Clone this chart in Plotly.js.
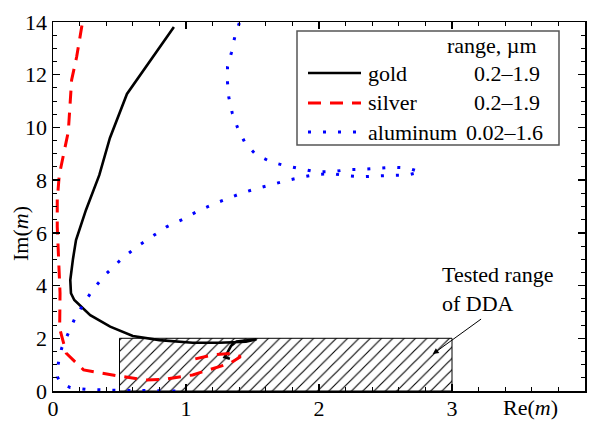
<!DOCTYPE html>
<html><head><meta charset="utf-8">
<script src="https://cdn.plot.ly/plotly-3.0.1.min.js"></script>
<style>html,body{margin:0;padding:0;background:#fff}#chart{width:590px;height:421px}</style>
</head><body><div id="chart"></div>
<script>
// ---- data ----
var goldRe = [1.33,1.29,1.31,1.34,1.38,1.45,1.53,1.45,1.25,1.05,0.80,0.60,0.43,0.28,0.16,0.135,0.13,0.15,0.173,0.248,0.348,0.428,0.556,0.909];
var goldIm = [1.22,1.28,1.45,1.72,1.88,1.93,1.96,1.87,1.83,1.83,1.93,2.09,2.44,2.88,3.45,3.71,4.21,5.0,5.73,6.87,8.19,9.6,11.27,13.81];

var silverRe = [1.07,1.20,1.36,1.41,1.33,1.25,1.05,0.85,0.70,0.48,0.23,0.10,0.05,0.053,0.04,0.032,0.032,0.047,0.115,0.128,0.14,0.178,0.232];
var silverIm = [1.22,1.37,1.43,1.30,1.05,0.92,0.61,0.45,0.42,0.58,0.80,1.43,2.38,3.71,4.97,6.23,7.25,8.19,9.84,10.79,11.8,12.68,14.3];

var alRe = [0.92,0.70,0.45,0.25,0.13,0.06,0.032,0.04,0.065,0.115,0.165,0.228,0.303,0.403,0.516,0.629,0.741,0.854,0.974,1.087,1.20,1.312,1.425,1.538,1.65,1.763,1.876,1.989,2.09,2.21,2.32,2.43,2.545,2.66,2.76,2.67,2.557,2.44,2.33,2.22,2.10,1.98,1.87,1.755,1.64,1.525,1.443,1.387,1.347,1.322,1.312,1.312,1.342,1.367,1.41];
var alIm = [0.0,0.01,0.03,0.06,0.13,0.3,0.54,1.05,1.62,2.19,2.76,3.29,3.87,4.46,5.01,5.47,5.85,6.23,6.51,6.82,7.08,7.31,7.52,7.69,7.85,7.99,8.12,8.22,8.25,8.17,8.13,8.16,8.18,8.19,8.31,8.46,8.49,8.45,8.41,8.40,8.32,8.31,8.42,8.54,8.69,8.97,9.42,10.0,10.56,11.14,11.71,12.3,12.85,13.44,14.1];

var rangeRe = [0.5,3,3,0.5,0.5];
var rangeIm = [0,0,2,2,0];

var seriesNames = ["gold","silver","aluminum"];
var seriesRanges = ["0.2\u20131.9","0.2\u20131.9","0.02\u20131.6"];

// ---- layout helpers (pixel -> paper) ----
var L = 53, R = 585, T = 22, B = 391;
function px(x){ return (x - L) / (R - L); }
function py(y){ return (B - y) / (B - T); }
var FONT = "Liberation Serif, Times New Roman, serif";
var FS = 22;

var traces = [
  {x: rangeRe, y: rangeIm, mode: "lines", fill: "toself", line: {color: "#000", width: 1},
   fillcolor: "rgba(255,255,255,0)",
   fillpattern: {shape: "/", size: 8, solidity: 0.14, fgcolor: "#000", bgcolor: "rgba(255,255,255,0)"},
   hoverinfo: "skip", showlegend: false},
  {x: goldRe, y: goldIm, mode: "lines", line: {color: "#000", width: 2.6}, showlegend: false},
  {x: silverRe, y: silverIm, mode: "lines", line: {color: "#ff0000", width: 3, dash: "13px,9px"}, showlegend: false},
  {x: alRe, y: alIm, mode: "lines", line: {color: "#0000ff", width: 3, dash: "3px,12px"}, showlegend: false}
];

var legendY = [73, 103, 132];
var legendStyles = [
  {color: "#000", width: 2.6, dash: "solid"},
  {color: "#ff0000", width: 3, dash: "13px,9px"},
  {color: "#0000ff", width: 3, dash: "3px,12px"}
];

var shapes = [
  {type: "rect", xref: "paper", yref: "paper", x0: px(297), x1: px(559), y0: py(145), y1: py(31),
   line: {color: "#555", width: 1.5}, fillcolor: "rgba(255,255,255,0)"}
];
var annotations = [
  {xref: "paper", yref: "paper", x: px(539), y: py(45), xanchor: "right", yanchor: "middle",
   text: "range, \u00b5m", showarrow: false, font: {family: FONT, size: FS, color: "#000"}}
];
for (var i = 0; i < seriesNames.length; i++) {
  shapes.push({type: "line", xref: "paper", yref: "paper", x0: px(308), x1: px(361),
    y0: py(legendY[i]), y1: py(legendY[i]), line: legendStyles[i]});
  annotations.push({xref: "paper", yref: "paper", x: px(366), y: py(legendY[i]), xanchor: "left", yanchor: "middle",
    text: seriesNames[i], showarrow: false, font: {family: FONT, size: FS, color: "#000"}});
  annotations.push({xref: "paper", yref: "paper", x: px(i === 2 ? 545 : 542), y: py(legendY[i]), xanchor: "right", yanchor: "middle",
    text: seriesRanges[i], showarrow: false, font: {family: FONT, size: FS, color: "#000"}});
}
annotations.push({xref: "x", yref: "y", x: 2.855, y: 1.40, axref: "x", ayref: "y", ax: 3.23, ay: 2.77,
  showarrow: true, arrowhead: 2, arrowsize: 1.2, arrowwidth: 1, arrowcolor: "#000", text: ""});
annotations.push({xref: "paper", yref: "paper", x: px(440), y: py(289), xanchor: "left", yanchor: "middle", align: "left",
  text: "Tested range<br>of DDA", showarrow: false, font: {family: FONT, size: FS, color: "#000"}});
annotations.push({xref: "paper", yref: "paper", x: px(530), y: py(408), xanchor: "center", yanchor: "middle",
  text: "Re(<i>m</i>)", showarrow: false, font: {family: FONT, size: FS, color: "#000"}});
annotations.push({xref: "paper", yref: "paper", x: px(20), y: py(234), xanchor: "center", yanchor: "middle", textangle: -90,
  text: "Im(<i>m</i>)", showarrow: false, font: {family: FONT, size: FS, color: "#000"}});

var axisCommon = {showgrid: false, zeroline: false, showline: true, linecolor: "#000", linewidth: 1.5,
  mirror: "ticks", ticks: "inside", ticklen: 7, tickwidth: 1.3, tickcolor: "#000",
  tickfont: {family: FONT, size: FS, color: "#000"}};

var layout = {
  width: 590, height: 421,
  margin: {l: L, r: 590 - R, t: T, b: 421 - B, pad: 0},
  paper_bgcolor: "#fff", plot_bgcolor: "#fff",
  xaxis: Object.assign({}, axisCommon, {range: [0, 4], tickvals: [0,1,2,3,4], ticktext: ["0","1","2","3","4"],
    ticklabelstandoff: -3,
    minor: {dtick: 0.2, ticks: "inside", ticklen: 4, tickwidth: 1, tickcolor: "#000", showgrid: false}}),
  yaxis: Object.assign({}, axisCommon, {range: [0, 14], dtick: 2, tick0: 0,
    minor: {dtick: 0.5, ticks: "inside", ticklen: 4, tickwidth: 1, tickcolor: "#000", showgrid: false}}),
  shapes: shapes,
  annotations: annotations,
  showlegend: false
};

Plotly.newPlot("chart", traces, layout, {displayModeBar: false, staticPlot: true});
</script></body></html>
